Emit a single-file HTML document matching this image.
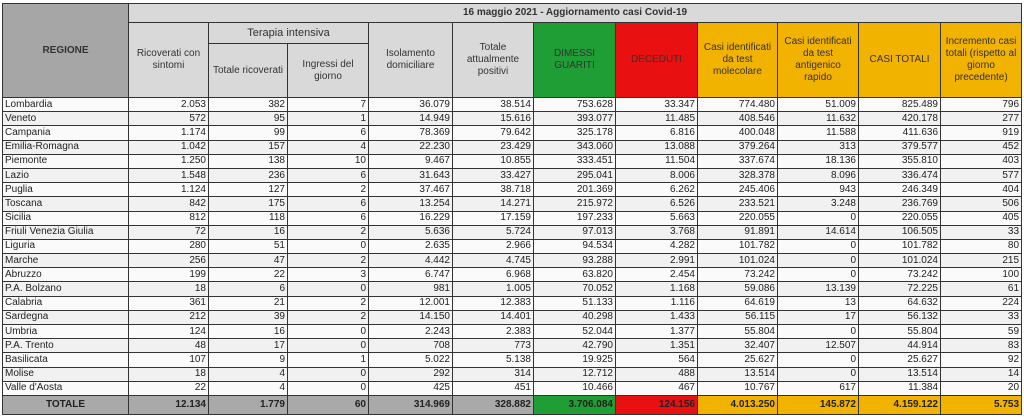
<!DOCTYPE html>
<html><head><meta charset="utf-8"><style>
body{margin:0;width:1024px;height:417px;background:#fff;overflow:hidden;font-family:"Liberation Sans",sans-serif}
table{position:absolute;left:2px;top:3px;border-collapse:collapse;table-layout:fixed;width:1019px;font-size:10px;color:#222}
td{border:1px solid #333;padding:0 2px;overflow:hidden;white-space:nowrap;text-align:right;line-height:12px}
td.r{text-align:left}
tr.d td{height:13.2px;background:#f1f1f1}
tr.d:nth-child(even) td{background:#fafafa}
.h td{background:#d9d9d9;text-align:center;white-space:normal;color:#333;font-size:10px}
.t{font-weight:bold;font-size:12px}
.g{background:#1e9e34!important}.rd{background:#e81010!important}.o{background:#f2b200!important}
tr.tot td{height:18px;background:#a9a9a9;font-weight:bold}
</style></head><body>
<table>
<colgroup><col style="width:126px"><col style="width:80px"><col style="width:79px"><col style="width:81px"><col style="width:84px"><col style="width:81px"><col style="width:82px"><col style="width:82px"><col style="width:80px"><col style="width:81px"><col style="width:82px"><col style="width:81px"></colgroup>
<tr class="h"><td rowspan="3" style="background:#a6a6a6;font-weight:bold">REGIONE</td><td colspan="11" class="t" style="height:18px">16 maggio 2021 - Aggiornamento casi Covid-19</td></tr>
<tr class="h"><td rowspan="2">Ricoverati con sintomi</td><td colspan="2" style="height:20px;font-size:11px">Terapia intensiva</td><td rowspan="2">Isolamento domiciliare</td><td rowspan="2">Totale attualmente positivi</td><td rowspan="2" class="g">DIMESSI GUARITI</td><td rowspan="2" class="rd">DECEDUTI</td><td rowspan="2" class="o">Casi identificati da test molecolare</td><td rowspan="2" class="o">Casi identificati da test antigenico rapido</td><td rowspan="2" class="o">CASI TOTALI</td><td rowspan="2" class="o">Incremento casi totali (rispetto al giorno precedente)</td></tr>
<tr class="h"><td style="height:53px">Totale ricoverati</td><td>Ingressi del giorno</td></tr>
<tr class="d"><td class="r">Lombardia</td><td>2.053</td><td>382</td><td>7</td><td>36.079</td><td>38.514</td><td>753.628</td><td>33.347</td><td>774.480</td><td>51.009</td><td>825.489</td><td>796</td></tr>
<tr class="d"><td class="r">Veneto</td><td>572</td><td>95</td><td>1</td><td>14.949</td><td>15.616</td><td>393.077</td><td>11.485</td><td>408.546</td><td>11.632</td><td>420.178</td><td>277</td></tr>
<tr class="d"><td class="r">Campania</td><td>1.174</td><td>99</td><td>6</td><td>78.369</td><td>79.642</td><td>325.178</td><td>6.816</td><td>400.048</td><td>11.588</td><td>411.636</td><td>919</td></tr>
<tr class="d"><td class="r">Emilia-Romagna</td><td>1.042</td><td>157</td><td>4</td><td>22.230</td><td>23.429</td><td>343.060</td><td>13.088</td><td>379.264</td><td>313</td><td>379.577</td><td>452</td></tr>
<tr class="d"><td class="r">Piemonte</td><td>1.250</td><td>138</td><td>10</td><td>9.467</td><td>10.855</td><td>333.451</td><td>11.504</td><td>337.674</td><td>18.136</td><td>355.810</td><td>403</td></tr>
<tr class="d"><td class="r">Lazio</td><td>1.548</td><td>236</td><td>6</td><td>31.643</td><td>33.427</td><td>295.041</td><td>8.006</td><td>328.378</td><td>8.096</td><td>336.474</td><td>577</td></tr>
<tr class="d"><td class="r">Puglia</td><td>1.124</td><td>127</td><td>2</td><td>37.467</td><td>38.718</td><td>201.369</td><td>6.262</td><td>245.406</td><td>943</td><td>246.349</td><td>404</td></tr>
<tr class="d"><td class="r">Toscana</td><td>842</td><td>175</td><td>6</td><td>13.254</td><td>14.271</td><td>215.972</td><td>6.526</td><td>233.521</td><td>3.248</td><td>236.769</td><td>506</td></tr>
<tr class="d"><td class="r">Sicilia</td><td>812</td><td>118</td><td>6</td><td>16.229</td><td>17.159</td><td>197.233</td><td>5.663</td><td>220.055</td><td>0</td><td>220.055</td><td>405</td></tr>
<tr class="d"><td class="r">Friuli Venezia Giulia</td><td>72</td><td>16</td><td>2</td><td>5.636</td><td>5.724</td><td>97.013</td><td>3.768</td><td>91.891</td><td>14.614</td><td>106.505</td><td>33</td></tr>
<tr class="d"><td class="r">Liguria</td><td>280</td><td>51</td><td>0</td><td>2.635</td><td>2.966</td><td>94.534</td><td>4.282</td><td>101.782</td><td>0</td><td>101.782</td><td>80</td></tr>
<tr class="d"><td class="r">Marche</td><td>256</td><td>47</td><td>2</td><td>4.442</td><td>4.745</td><td>93.288</td><td>2.991</td><td>101.024</td><td>0</td><td>101.024</td><td>215</td></tr>
<tr class="d"><td class="r">Abruzzo</td><td>199</td><td>22</td><td>3</td><td>6.747</td><td>6.968</td><td>63.820</td><td>2.454</td><td>73.242</td><td>0</td><td>73.242</td><td>100</td></tr>
<tr class="d"><td class="r">P.A. Bolzano</td><td>18</td><td>6</td><td>0</td><td>981</td><td>1.005</td><td>70.052</td><td>1.168</td><td>59.086</td><td>13.139</td><td>72.225</td><td>61</td></tr>
<tr class="d"><td class="r">Calabria</td><td>361</td><td>21</td><td>2</td><td>12.001</td><td>12.383</td><td>51.133</td><td>1.116</td><td>64.619</td><td>13</td><td>64.632</td><td>224</td></tr>
<tr class="d"><td class="r">Sardegna</td><td>212</td><td>39</td><td>2</td><td>14.150</td><td>14.401</td><td>40.298</td><td>1.433</td><td>56.115</td><td>17</td><td>56.132</td><td>33</td></tr>
<tr class="d"><td class="r">Umbria</td><td>124</td><td>16</td><td>0</td><td>2.243</td><td>2.383</td><td>52.044</td><td>1.377</td><td>55.804</td><td>0</td><td>55.804</td><td>59</td></tr>
<tr class="d"><td class="r">P.A. Trento</td><td>48</td><td>17</td><td>0</td><td>708</td><td>773</td><td>42.790</td><td>1.351</td><td>32.407</td><td>12.507</td><td>44.914</td><td>83</td></tr>
<tr class="d"><td class="r">Basilicata</td><td>107</td><td>9</td><td>1</td><td>5.022</td><td>5.138</td><td>19.925</td><td>564</td><td>25.627</td><td>0</td><td>25.627</td><td>92</td></tr>
<tr class="d"><td class="r">Molise</td><td>18</td><td>4</td><td>0</td><td>292</td><td>314</td><td>12.712</td><td>488</td><td>13.514</td><td>0</td><td>13.514</td><td>14</td></tr>
<tr class="d"><td class="r">Valle d'Aosta</td><td>22</td><td>4</td><td>0</td><td>425</td><td>451</td><td>10.466</td><td>467</td><td>10.767</td><td>617</td><td>11.384</td><td>20</td></tr>
<tr class="tot"><td style="text-align:center">TOTALE</td><td>12.134</td><td>1.779</td><td>60</td><td>314.969</td><td>328.882</td><td class="g">3.706.084</td><td class="rd">124.156</td><td class="o">4.013.250</td><td class="o">145.872</td><td class="o">4.159.122</td><td class="o">5.753</td></tr>
</table>
</body></html>
